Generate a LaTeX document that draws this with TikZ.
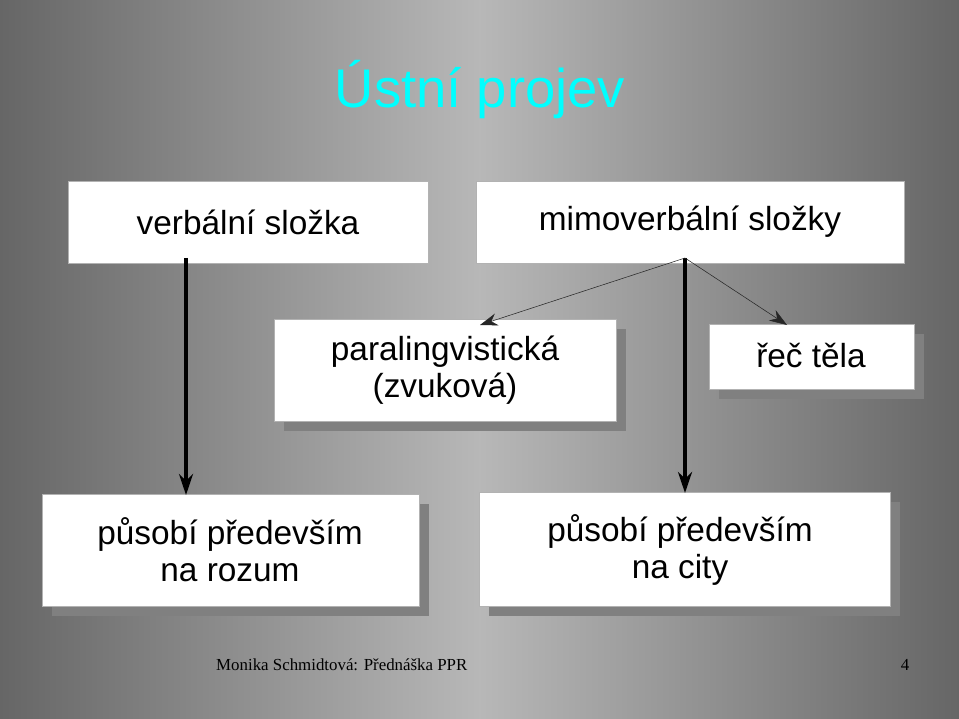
\documentclass[tikz,border=0pt]{standalone}
\usepackage{fontspec}
\setmainfont{Liberation Sans}
\newfontfamily\footfont{Liberation Serif}
\usetikzlibrary{arrows.meta}
\definecolor{titlecyan}{RGB}{0,255,255}
\definecolor{shadowgray}{RGB}{128,128,128}
\begin{document}
\begin{tikzpicture}
      [x = 0.02cm, y = -0.02cm,
      box/.style= {
         draw = gray!60,
         fill = white,
         line width = 0.4pt
      },
      shade/.style= {
         fill = shadowgray
      },
      label/.style= {
         font = \fontsize{19}{21}\selectfont,
         align = center
      },
      thick arrow/.style= {
         line width = 2pt,
         -{Stealth[length = 12pt, width = 8pt]}
      },
      thin arrow/.style= {
         line width = 0.3pt,
         draw = gray!30!black,
         -{Stealth[length = 10pt, width = 7pt]}
      }]

      % background
      \shade[left color = black!60, right color = black!60, middle color = black!28]
         (0, 0) rectangle (959, 719);
      \useasboundingbox (0, 0) rectangle (959, 719);

      \node[font = \fontsize{31}{33}\selectfont, text = titlecyan] (title) at (480, 90) {Ústní projev};

      % top row
      \draw[box] (68, 181) rectangle (428, 263);
      \node[label] (verbal) at (248, 222) {verbální složka};
      \draw[box] (476, 181) rectangle (904, 263);
      \node[label] (mimo) at (690, 222) {mimoverbální složky};

      % middle row
      \fill[shade] (284, 329) rectangle (626, 431);
      \draw[box] (274, 319) rectangle (616, 421);
      \node[label] (para) at (445, 370) {paralingvistická\\(zvuková)};
      \fill[shade] (719, 334) rectangle (924, 399);
      \draw[box] (709, 324) rectangle (914, 389);
      \node[label] (telo) at (811, 356) {řeč těla};

      % bottom row
      \fill[shade] (52, 504) rectangle (429, 616);
      \draw[box] (42, 494) rectangle (419, 606);
      \node[label] (rozum) at (230, 550) {působí především\\na rozum};
      \fill[shade] (489, 502) rectangle (900, 616);
      \draw[box] (479, 492) rectangle (890, 606);
      \node[label] (city) at (680, 550) {působí především\\na city};

      % connectors
      \coordinate (vfoot) at (186, 258);
      \coordinate (mfoot) at (685, 258);
      \draw[thick arrow] (vfoot) -- (186, 495);
      \draw[thick arrow] (mfoot) -- (685, 493);
      \draw[thin arrow] (mfoot) -- (480, 325);
      \draw[thin arrow] (mfoot) -- (787, 325);

      % footer
      \node[font = \footfont\fontsize{9.6}{12}\selectfont, anchor = west] (foot) at (210, 665) {Monika Schmidtová: Přednáška PPR};
      \node[font = \footfont\fontsize{9.6}{12}\selectfont] (page) at (905, 665) {4};

   \end{tikzpicture}
\end{document}
